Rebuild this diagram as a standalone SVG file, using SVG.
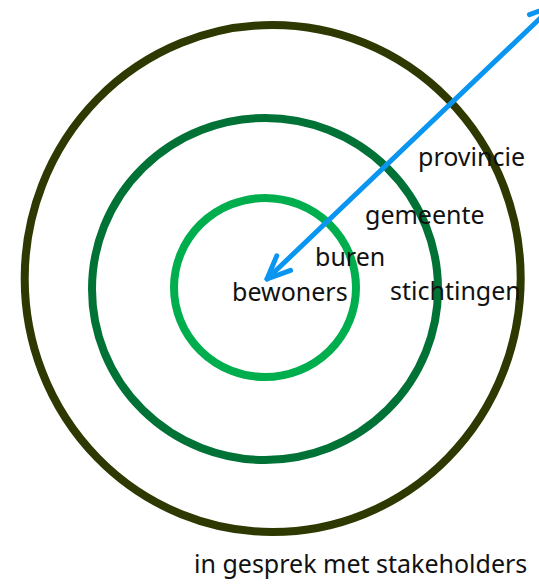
<svg xmlns="http://www.w3.org/2000/svg" width="539" height="584" viewBox="0 0 539 584">
  <style>
    .ring { fill: none; stroke-width: 8; }
    .lbl { font-family: "Noto Sans", "Open Sans", sans-serif; font-size: 25px; fill: #111111; }
    .arrow { fill: none; stroke: #0A96F0; stroke-width: 5; stroke-linecap: round; stroke-linejoin: round; }
  </style>
  <defs>
    <marker id="head" markerUnits="userSpaceOnUse" markerWidth="40" markerHeight="40" refX="0" refY="0" viewBox="-30 -20 40 40" orient="auto-start-reverse" overflow="visible">
      <path d="M-23,-10 L0,0 L-23,10" fill="none" stroke="#0A96F0" stroke-width="5" stroke-linecap="round" stroke-linejoin="round"/>
    </marker>
  </defs>
  <rect width="539" height="584" fill="#ffffff"/>
  <g id="ring-outer">
    <ellipse class="ring" cx="272.7" cy="278.5" rx="248" ry="253.5" stroke="#2D3900"/>
  </g>
  <g id="ring-middle">
    <ellipse class="ring" cx="265" cy="289" rx="173" ry="171" stroke="#007236"/>
  </g>
  <g id="ring-inner">
    <ellipse class="ring" cx="265" cy="287.5" rx="91" ry="89.5" stroke="#00AE4E"/>
  </g>
  <g id="connectors">
    <path class="arrow" d="M553,6 L267,279" marker-start="url(#head)" marker-end="url(#head)"/>
  </g>
  <g id="label-provincie"><text class="lbl" x="418" y="166">provincie</text></g>
  <g id="label-gemeente"><text class="lbl" x="365" y="224">gemeente</text></g>
  <g id="label-buren"><text class="lbl" x="315" y="266">buren</text></g>
  <g id="label-bewoners"><text class="lbl" x="232" y="301">bewoners</text></g>
  <g id="label-stichtingen"><text class="lbl" x="390" y="300">stichtingen</text></g>
  <g id="label-title"><text class="lbl" x="194" y="573">in gesprek met stakeholders</text></g>
</svg>
